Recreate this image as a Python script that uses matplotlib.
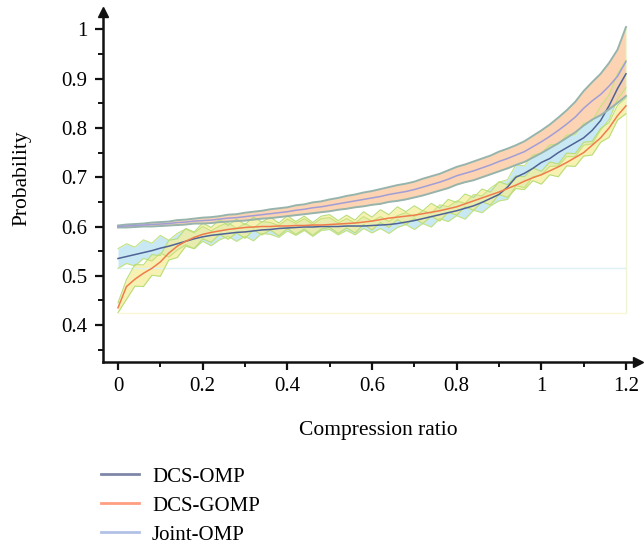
import numpy as np
import matplotlib
matplotlib.use('Agg')
import matplotlib.pyplot as plt
from matplotlib.lines import Line2D

# compression ratio grid (step 0.02)
ratio = np.round(np.arange(61) * 0.02, 2)

joint_mean = [0.600, 0.601, 0.602, 0.603, 0.604, 0.605, 0.606, 0.608, 0.609, 0.611,
              0.612, 0.613, 0.615, 0.617, 0.618, 0.620, 0.622, 0.624, 0.626, 0.628,
              0.630, 0.633, 0.635, 0.638, 0.640, 0.643, 0.646, 0.649, 0.652, 0.655,
              0.658, 0.661, 0.665, 0.668, 0.671, 0.675, 0.680, 0.685, 0.690, 0.696,
              0.703, 0.708, 0.713, 0.719, 0.725, 0.732, 0.738, 0.745, 0.752, 0.762,
              0.772, 0.783, 0.795, 0.808, 0.822, 0.840, 0.855, 0.868, 0.885, 0.905,
              0.935]
joint_hw = [0.002, 0.003, 0.003, 0.003, 0.004, 0.004, 0.004, 0.005, 0.005, 0.005,
            0.006, 0.006, 0.006, 0.007, 0.007, 0.008, 0.008, 0.008, 0.009, 0.009,
            0.009, 0.010, 0.010, 0.011, 0.011, 0.012, 0.012, 0.013, 0.013, 0.014,
            0.014, 0.015, 0.015, 0.016, 0.016, 0.016, 0.017, 0.017, 0.017, 0.018,
            0.018, 0.018, 0.019, 0.019, 0.019, 0.020, 0.020, 0.020, 0.021, 0.022,
            0.023, 0.024, 0.026, 0.028, 0.031, 0.035, 0.038, 0.042, 0.047, 0.054,
            0.070]

omp_mean = [0.535, 0.539, 0.543, 0.547, 0.551, 0.556, 0.560, 0.565, 0.570, 0.575,
            0.579, 0.582, 0.584, 0.586, 0.588, 0.589, 0.591, 0.593, 0.594, 0.596,
            0.597, 0.598, 0.599, 0.599, 0.600, 0.600, 0.600, 0.601, 0.601, 0.601,
            0.602, 0.603, 0.604, 0.606, 0.609, 0.612, 0.616, 0.620, 0.624, 0.628,
            0.632, 0.637, 0.642, 0.649, 0.657, 0.665, 0.680, 0.700, 0.708, 0.718,
            0.730, 0.738, 0.750, 0.760, 0.770, 0.780, 0.795, 0.815, 0.845, 0.880,
            0.910]
omp_hw = [0.020, 0.020, 0.019, 0.019, 0.018, 0.018, 0.017, 0.017, 0.016, 0.016,
          0.015, 0.015, 0.014, 0.014, 0.013, 0.013, 0.013, 0.012, 0.012, 0.012,
          0.012, 0.012, 0.012, 0.012, 0.012, 0.012, 0.012, 0.012, 0.012, 0.012,
          0.012, 0.012, 0.012, 0.012, 0.012, 0.013, 0.013, 0.014, 0.014, 0.015,
          0.015, 0.016, 0.016, 0.017, 0.018, 0.019, 0.020, 0.021, 0.022, 0.022,
          0.022, 0.022, 0.022, 0.022, 0.022, 0.022, 0.023, 0.024, 0.025, 0.026,
          0.028]
omp_wig = [0.000, 0.006, -0.004, 0.007, -0.003, 0.008, -0.005, 0.004, 0.009, -0.004,
           0.006, -0.006, 0.003, 0.008, -0.005, 0.004, -0.007, 0.005, 0.002, -0.006,
           0.006, -0.004, 0.005, -0.007, 0.004, 0.006, -0.005, 0.003, -0.006, 0.007,
           -0.003, 0.005, -0.006, 0.004, 0.007, -0.005, 0.003, -0.007, 0.006, -0.003,
           0.005, -0.006, 0.007, -0.004, 0.003, 0.006, -0.005, 0.004, -0.007, 0.005,
           -0.003, 0.006, -0.005, 0.004, -0.006, 0.007, -0.004, 0.005, -0.003, 0.004,
           0.000]

gomp_mean = [0.435, 0.478, 0.493, 0.505, 0.515, 0.528, 0.546, 0.560, 0.570, 0.578,
             0.584, 0.588, 0.591, 0.594, 0.596, 0.598, 0.599, 0.600, 0.600, 0.601,
             0.601, 0.602, 0.602, 0.603, 0.603, 0.604, 0.605, 0.606, 0.607, 0.609,
             0.611, 0.614, 0.617, 0.619, 0.621, 0.623, 0.626, 0.629, 0.632, 0.636,
             0.640, 0.646, 0.652, 0.658, 0.664, 0.670, 0.677, 0.684, 0.692, 0.699,
             0.705, 0.713, 0.721, 0.730, 0.740, 0.750, 0.765, 0.780, 0.800, 0.825,
             0.845]
gomp_hw = [0.010, 0.020, 0.022, 0.022, 0.021, 0.021, 0.020, 0.019, 0.018, 0.017,
           0.016, 0.015, 0.015, 0.014, 0.014, 0.014, 0.013, 0.013, 0.013, 0.013,
           0.013, 0.013, 0.013, 0.013, 0.013, 0.013, 0.013, 0.013, 0.013, 0.013,
           0.013, 0.013, 0.013, 0.013, 0.013, 0.013, 0.013, 0.013, 0.013, 0.013,
           0.013, 0.013, 0.013, 0.013, 0.013, 0.013, 0.013, 0.013, 0.013, 0.013,
           0.013, 0.013, 0.013, 0.013, 0.013, 0.014, 0.014, 0.014, 0.015, 0.015,
           0.016]
gomp_wig = [0.000, -0.006, 0.008, -0.005, 0.007, -0.008, 0.006, -0.004, 0.008, -0.006,
            0.007, -0.005, 0.008, -0.006, 0.005, -0.008, 0.007, -0.004, 0.006, -0.007,
            0.008, -0.005, 0.006, -0.008, 0.005, 0.007, -0.006, 0.004, -0.007, 0.008,
            -0.005, 0.007, -0.006, 0.008, -0.004, 0.006, -0.007, 0.005, -0.008, 0.006,
            -0.004, 0.007, -0.006, 0.005, -0.007, 0.008, -0.005, 0.006, -0.004, 0.007,
            -0.006, 0.005, -0.007, 0.006, -0.005, 0.007, -0.006, 0.005, -0.004, 0.006,
            0.000]

labels = ['DCS-OMP', 'DCS-GOMP', 'Joint-OMP']
legend_colors = ['#7F87A8', '#FF9E80', '#B2C1E6']

xtick_vals = [0, 0.2, 0.4, 0.6, 0.8, 1.0, 1.2]
xtick_labels = ['0', '0.2', '0.4', '0.6', '0.8', '1', '1.2']
ytick_vals = [0.4, 0.5, 0.6, 0.7, 0.8, 0.9, 1.0]
ytick_labels = ['0.4', '0.5', '0.6', '0.7', '0.8', '0.9', '1']

plt.rcParams['font.family'] = ['Liberation Serif', 'DejaVu Serif']

joint_mean = np.array(joint_mean)
joint_lo = joint_mean - np.array(joint_hw)
joint_hi = joint_mean + np.array(joint_hw)
omp_c = np.array(omp_mean) + np.array(omp_wig)
omp_lo = omp_c - np.array(omp_hw)
omp_hi = omp_c + np.array(omp_hw)
gomp_c = np.array(gomp_mean) + np.array(gomp_wig)
gomp_lo = gomp_c - np.array(gomp_hw)
gomp_hi = gomp_c + np.array(gomp_hw)

W, H = 644, 546
fig = plt.figure(figsize=(W / 100, H / 100), dpi=100)
ax = fig.add_axes([103 / W, 1 - 362 / H, (638 - 103) / W, (362 - 12) / H])

# faint bounding lines left by the bands
ax.hlines(omp_lo.min(), ratio[0], ratio[-1], color='#DDF1F3', lw=1)
ax.hlines(gomp_lo.min(), ratio[0], ratio[-1], color='#FBF5D6', lw=1)
ax.vlines(ratio[-1], gomp_lo.min(), joint_hi.max(), color='#EEF5D2', lw=1)

# DCS-OMP band
ax.fill_between(ratio, omp_lo, omp_hi, color='#BFE6F3', alpha=0.85, lw=0)
ax.plot(ratio, omp_lo, color='#C6E27C', lw=0.8)
ax.plot(ratio, omp_hi, color='#C6E27C', lw=0.8)
# DCS-GOMP band
ax.fill_between(ratio, gomp_lo, gomp_hi, color='#F5EE98', alpha=0.75, lw=0)
ax.plot(ratio, gomp_lo, color='#B9DE7A', lw=0.8)
ax.plot(ratio, gomp_hi, color='#B9DE7A', lw=0.8)

ax.plot(ratio, omp_mean, color='#4F6396', lw=1.1)
ax.plot(ratio, gomp_mean, color='#F07C4C', lw=1.1)

# Joint-OMP band
ax.fill_between(ratio, joint_lo, joint_hi, color='#FCCDA6', alpha=0.85, lw=0)
ax.plot(ratio, joint_lo, color='#97B4AC', lw=1.4)
ax.plot(ratio, joint_hi, color='#97B4AC', lw=1.4)
ax.plot(ratio, joint_mean, color='#A19DD6', lw=1.1)

ax.set_xlim(-0.0354, 1.2284)
ax.set_ylim(0.3249, 1.0355)
for s in ['top', 'right']:
    ax.spines[s].set_visible(False)
for s in ['left', 'bottom']:
    ax.spines[s].set_linewidth(1.8)
    ax.spines[s].set_color('#111111')
ax.plot(1, 0, '>', transform=ax.transAxes, clip_on=False, color='#111111', ms=7)
ax.plot(0, 1, '^', transform=ax.transAxes, clip_on=False, color='#111111', ms=7)

ax.set_xticks(xtick_vals)
ax.set_xticklabels(xtick_labels)
ax.set_xticks(np.round(np.arange(0.1, 1.2, 0.2), 2), minor=True)
ax.set_yticks(ytick_vals)
ax.set_yticklabels(ytick_labels)
ax.set_yticks(np.round(np.arange(0.35, 1.0, 0.1), 2), minor=True)
ax.tick_params(which='major', length=6, width=1.6, direction='out',
               labelsize=15, color='#111111')
ax.tick_params(axis='x', which='major', pad=5)
ax.tick_params(axis='y', which='major', pad=5)
ax.tick_params(which='minor', length=3.5, width=1.4, direction='out', color='#111111')

fig.text(378 / W, 1 - 431 / H, 'Compression ratio', fontsize=15.5,
         ha='center', va='center')
fig.text(22 / W, 1 - 178 / H, 'Probability', fontsize=15.5, rotation=90,
         ha='center', va='center')

handles = [Line2D([], [], color=c, lw=2) for c in legend_colors]
fig.legend(handles, labels, loc='upper left', bbox_to_anchor=(101 / W, 1 - 467 / H),
           frameon=False, fontsize=15, handlelength=1.8, handletextpad=0.65,
           labelspacing=0.45, borderpad=0, borderaxespad=0)

fig.savefig('out.png', dpi=100)
